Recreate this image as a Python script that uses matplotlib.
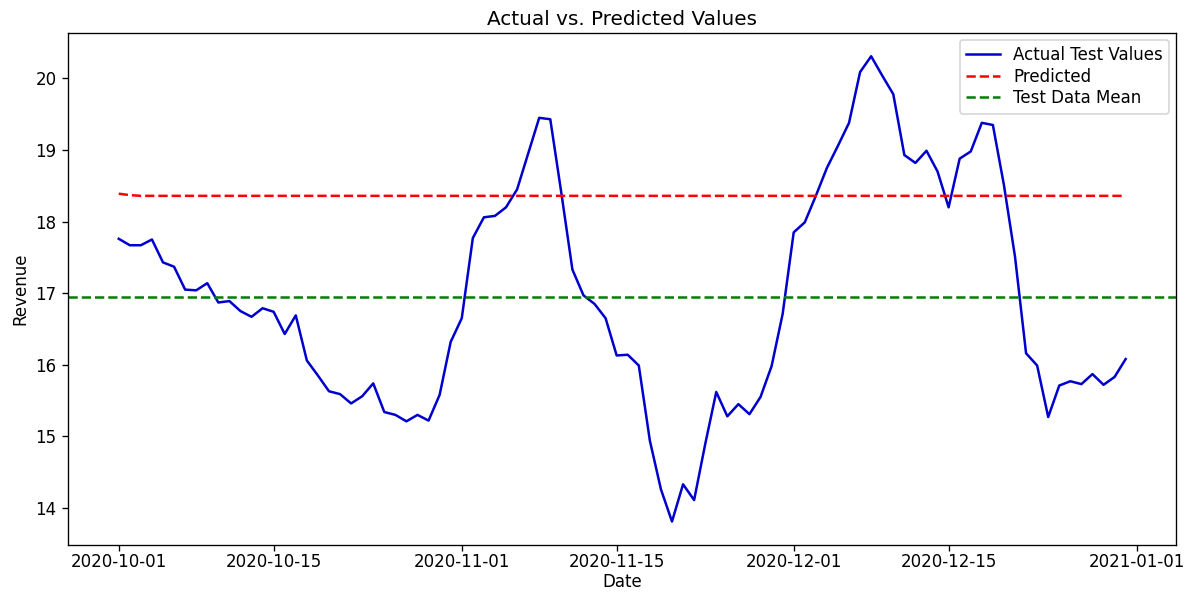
import pandas as pd
import matplotlib
matplotlib.use('Agg')
import matplotlib.pyplot as plt

# Daily test period: 2020-10-01 .. 2020-12-31
dates = pd.date_range('2020-10-01', periods=92, freq='D')

# Actual test values
actual = [
    17.76, 17.67, 17.67, 17.75, 17.43, 17.37, 17.05, 17.04, 17.14, 16.87,
    16.89, 16.75, 16.67, 16.79, 16.74, 16.43, 16.69, 16.06, 15.85, 15.63,
    15.59, 15.46, 15.56, 15.74, 15.34, 15.30, 15.21, 15.30, 15.22, 15.58,
    16.32, 16.65, 17.77, 18.06, 18.08, 18.20, 18.45, 18.95, 19.45, 19.43,
    18.40, 17.33, 16.97, 16.85, 16.65, 16.13, 16.14, 15.99, 14.94, 14.26,
    13.81, 14.33, 14.11, 14.89, 15.62, 15.28, 15.45, 15.31, 15.55, 15.98,
    16.71, 17.85, 17.99, 18.36, 18.75, 19.06, 19.38, 20.09, 20.31, 20.04,
    19.78, 18.93, 18.82, 18.99, 18.70, 18.20, 18.88, 18.98, 19.38, 19.35,
    18.51, 17.51, 16.16, 15.99, 15.27, 15.71, 15.77, 15.73, 15.87, 15.72,
    15.83, 16.08,
]

# Model prediction: settles almost immediately to a flat level
predicted = [18.39, 18.37] + [18.36] * 90

test_mean = 16.95

fig, ax = plt.subplots(figsize=(10, 5), dpi=120)
fig.subplots_adjust(left=0.057, right=0.98, top=0.945, bottom=0.092)

ax.plot(dates, actual, color='mediumblue', label='Actual Test Values')
ax.plot(dates, predicted, color='red', linestyle='--', label='Predicted')
ax.axhline(test_mean, color='green', linestyle='--', label='Test Data Mean')

ax.set_title('Actual vs. Predicted Values', pad=5)
ax.set_xlabel('Date', labelpad=1)
ax.set_ylabel('Revenue')
ax.tick_params(axis='x', pad=1.5)
ax.legend(loc='upper right', labelspacing=0.2, borderaxespad=0.4)

plt.savefig('out.png')
